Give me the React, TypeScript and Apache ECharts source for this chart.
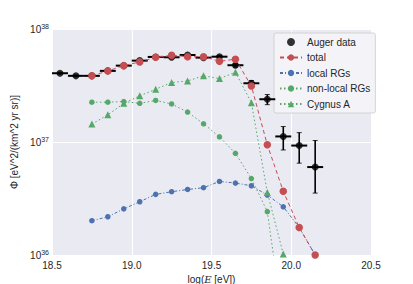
import React, { useEffect, useRef } from "react";
import * as echarts from "echarts";

// Flux values in units of 1e37 eV^2/(km^2 yr sr)
const augerEnergy = [18.55, 18.65, 18.75, 18.85, 18.95, 19.05, 19.15, 19.25, 19.35, 19.45, 19.55, 19.65, 19.75, 19.85, 19.95, 20.05, 20.15];
const augerFlux = [4.06, 3.85, 3.85, 4.26, 4.74, 5.25, 5.66, 5.62, 5.89, 5.58, 5.69, 4.78, 3.31, 2.39, 1.12, 0.93, 0.6];
const augerLow = [3.98, 3.78, 3.78, 4.19, 4.67, 5.17, 5.57, 5.52, 5.78, 5.46, 5.55, 4.6, 3.12, 2.14, 0.85, 0.65, 0.353];
const augerHigh = [4.14, 3.92, 3.92, 4.33, 4.81, 5.33, 5.75, 5.72, 6.0, 5.7, 5.83, 4.96, 3.5, 2.63, 1.37, 1.21, 1.03];
const binHalfWidth = 0.05;

const modelEnergy = [18.75, 18.85, 18.95, 19.05, 19.15, 19.25, 19.35, 19.45, 19.55, 19.65, 19.75, 19.85, 19.95, 20.05, 20.15];
const totalFlux = [3.85, 4.26, 4.74, 5.11, 5.62, 5.85, 5.69, 5.69, 5.18, 5.4, 3.13, 0.944, 0.366, 0.175, 0.1];
const localFlux = [0.201, 0.218, 0.256, 0.296, 0.344, 0.363, 0.38, 0.394, 0.448, 0.433, 0.41, 0.339, 0.267, 0.175, 0.1];
const nonLocalFlux = [2.25, 2.25, 2.28, 2.2, 2.33, 2.17, 1.84, 1.45, 1.11, 0.794, 0.475, 0.242, 0.024];
const cygnusFlux = [1.44, 1.74, 2.2, 2.56, 2.93, 3.36, 3.47, 3.85, 3.64, 4.14, 2.23, 0.358, 0.102];

const xTicks = [18.5, 19.0, 19.5, 20.0, 20.5];
const yDecades = [36, 37, 38];

const RED = "#C44E52";
const BLUE = "#4C72B0";
const GREEN = "#55A868";
const TXT = "#262626";
const UNIT = 1e37;
const FONT = "Liberation Sans";

export default function App() {
  const ref = useRef<HTMLDivElement>(null);
  useEffect(() => {
    if (!ref.current) return;
    const chart = echarts.init(ref.current, undefined, { renderer: "svg" });
    const pts = (xs: number[], ys: number[]) => ys.map((v, i) => [xs[i], v * UNIT]);
    const augerErr = augerEnergy.map((x, i) => [
      x,
      augerFlux[i] * UNIT,
      augerLow[i] * UNIT,
      augerHigh[i] * UNIT,
      x - binHalfWidth,
      x + binHalfWidth,
    ]);
    chart.setOption({
      animation: false,
      backgroundColor: "#ffffff",
      grid: {
        left: 52,
        right: 42,
        top: 29,
        bottom: 29,
        show: true,
        backgroundColor: "#EAEAF2",
        borderWidth: 0,
        containLabel: false,
        outerBoundsMode: "none",
      },
      xAxis: {
        type: "value",
        min: xTicks[0],
        max: xTicks[xTicks.length - 1],
        interval: 0.5,
        name: "log({i|E} [eV])",
        nameLocation: "middle",
        nameGap: 16,
        nameTextStyle: {
          color: TXT,
          fontSize: 10,
          fontFamily: FONT,
          rich: { i: { fontStyle: "italic", fontFamily: "DejaVu Serif", fontSize: 10, color: TXT } },
        },
        axisLine: { show: false },
        axisTick: { show: false },
        axisLabel: { color: TXT, fontSize: 10, fontFamily: FONT, margin: 5, formatter: (v: number) => v.toFixed(1) },
        splitLine: { show: true, lineStyle: { color: "#ffffff", width: 1 } },
      },
      yAxis: {
        type: "log",
        logBase: 10,
        min: Math.pow(10, yDecades[0]),
        max: Math.pow(10, yDecades[yDecades.length - 1]),
        name: "Φ [eV^2/(km^2 yr sr)]",
        nameLocation: "middle",
        nameGap: 31,
        nameTextStyle: { color: TXT, fontSize: 10, fontFamily: FONT },
        axisLine: { show: false },
        axisTick: { show: false },
        axisLabel: {
          color: TXT,
          fontFamily: FONT,
          margin: 3,
          formatter: (v: number) => `{b|10}{s|${Math.round(Math.log10(v))}}`,
          rich: {
            b: { fontSize: 10, color: TXT, fontFamily: FONT },
            s: { fontSize: 7, color: TXT, fontFamily: FONT, padding: [0, 0, 6, 0] },
          },
        },
        splitLine: { show: true, lineStyle: { color: "#ffffff", width: 1 } },
      },
      legend: {
        orient: "vertical",
        left: 274,
        top: 33,
        itemWidth: 22,
        itemHeight: 8,
        itemGap: 5.5,
        padding: [4, 5, 4, 5],
        backgroundColor: "#F4F4F8",
        borderColor: "#CCCCCC",
        borderWidth: 0.8,
        borderRadius: 2,
        textStyle: { color: TXT, fontSize: 10, fontFamily: FONT },
        data: ["Auger data", "total", "local RGs", "non-local RGs", "Cygnus A"],
      },
      series: [
        {
          type: "line",
          name: "local RGs",
          data: pts(modelEnergy, localFlux),
          symbol: "circle",
          symbolSize: 5.5,
          itemStyle: { color: BLUE },
          lineStyle: { color: BLUE, width: 1, type: [3, 2, 1, 2] },
          z: 3,
        },
        {
          type: "line",
          name: "non-local RGs",
          data: pts(modelEnergy, nonLocalFlux),
          symbol: "circle",
          symbolSize: 5.5,
          itemStyle: { color: GREEN },
          lineStyle: { color: GREEN, width: 1, type: [1.5, 2.5] },
          z: 3,
        },
        {
          type: "line",
          name: "Cygnus A",
          data: pts(modelEnergy, cygnusFlux),
          symbol: "triangle",
          symbolSize: 7,
          itemStyle: { color: GREEN },
          lineStyle: { color: GREEN, width: 1, type: [1.5, 2.5] },
          z: 3,
        },
        {
          type: "custom",
          name: "augerErr",
          data: augerErr,
          z: 4,
          renderItem: (params: any, api: any) => {
            const x = api.value(0);
            const y = api.value(1);
            const lo = api.value(2);
            const hi = api.value(3);
            const pl = api.coord([api.value(4), y]);
            const pr = api.coord([api.value(5), y]);
            const pt = api.coord([x, hi]);
            const pb = api.coord([x, lo]);
            const st = { stroke: "#000000", lineWidth: 1.6 };
            return {
              type: "group",
              children: [
                { type: "line", shape: { x1: pl[0], y1: pl[1], x2: pr[0], y2: pr[1] }, style: { stroke: "#000", lineWidth: 2 } },
                { type: "line", shape: { x1: pt[0], y1: pt[1], x2: pb[0], y2: pb[1] }, style: st },
                { type: "line", shape: { x1: pt[0] - 2.5, y1: pt[1], x2: pt[0] + 2.5, y2: pt[1] }, style: { stroke: "#000", lineWidth: 0.8 } },
                { type: "line", shape: { x1: pb[0] - 2.5, y1: pb[1], x2: pb[0] + 2.5, y2: pb[1] }, style: { stroke: "#000", lineWidth: 0.8 } },
              ],
            };
          },
        },
        {
          type: "scatter",
          name: "Auger data",
          data: pts(augerEnergy, augerFlux),
          symbol: "circle",
          symbolSize: 7,
          itemStyle: { color: "#000000" },
          z: 5,
        },
        {
          type: "line",
          name: "total",
          data: pts(modelEnergy, totalFlux),
          symbol: "circle",
          symbolSize: 7.5,
          itemStyle: { color: RED },
          lineStyle: { color: RED, width: 1, type: [4, 3] },
          z: 6,
        },
      ],
    });
    return () => chart.dispose();
  }, []);
  return <div ref={ref} style={{ width: 413, height: 284, position: "absolute", left: 0, top: 0 }} />;
}
